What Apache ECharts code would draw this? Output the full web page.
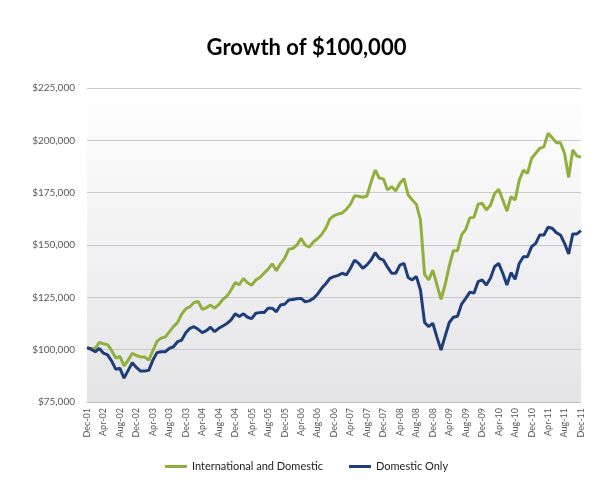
<!DOCTYPE html>
<html><head><meta charset="utf-8">
<script src="https://cdn.jsdelivr.net/npm/echarts@6/dist/echarts.min.js"></script>
<style>html,body{margin:0;padding:0;background:#fff;}#c{width:613px;height:500px;}</style>
</head><body><div id="c"></div>
<script>
var months = ['Jan','Feb','Mar','Apr','May','Jun','Jul','Aug','Sep','Oct','Nov','Dec'];
var categories = [];
(function(){ categories.push('Dec-01'); for (var y=2; y<=11; y++) { for (var m=0; m<12; m++) { categories.push(months[m] + '-' + (y<10?'0'+y:''+y)); } } })();

var intlDomestic = [
101.0,100.5,100.6,103.5,102.8,102.4,99.5,96.0,96.8,92.2,95.0,98.3,
97.2,96.6,96.5,95.0,99.5,104.0,105.5,106.0,108.5,111.0,113.0,117.0,
119.5,120.5,122.5,123.0,119.3,120.0,121.3,119.8,121.5,124.0,125.5,128.5,
132.0,131.0,134.0,132.0,130.8,133.3,134.5,136.5,138.5,141.0,137.7,141.0,
143.6,148.0,148.4,150.0,153.2,150.0,149.0,151.5,153.0,155.0,158.0,162.5,
164.0,164.8,165.3,167.0,169.5,173.5,173.3,172.8,173.4,180.0,185.8,182.0,
181.6,176.3,177.9,175.8,179.5,181.7,174.0,171.5,169.5,162.0,136.0,133.3,
138.0,131.0,124.0,131.0,140.0,147.3,147.3,154.8,157.5,163.0,163.2,169.5,
169.9,166.7,169.0,174.5,176.6,171.5,166.2,173.1,171.5,181.0,185.8,184.2,
191.4,193.8,196.2,197.0,203.4,201.3,198.9,198.9,193.8,182.3,195.4,192.5,
192.0
];
var domesticOnly = [
101.0,100.2,99.0,100.6,98.3,97.5,94.5,90.6,91.1,86.4,90.1,93.8,
91.5,89.8,89.8,90.1,95.0,98.6,99.0,99.0,100.6,101.4,103.8,104.6,
108.1,110.2,111.0,109.7,108.1,109.1,110.7,108.6,110.2,111.3,112.5,114.2,
117.1,115.8,117.1,115.5,114.8,117.4,117.7,117.7,119.8,119.8,118.1,121.3,
121.7,123.7,124.0,124.3,124.5,122.9,123.3,124.5,126.5,129.3,131.5,134.1,
134.9,135.5,136.5,135.7,138.9,142.8,141.2,138.9,140.5,142.8,146.3,143.6,
142.8,139.4,136.5,136.5,140.4,141.2,134.5,133.3,135.0,128.5,113.0,111.0,
112.6,106.0,99.8,106.5,113.0,115.5,116.0,121.8,124.5,127.5,127.0,132.5,
133.3,130.9,134.1,139.6,141.2,136.5,130.9,136.8,133.6,141.2,144.4,144.4,
149.2,150.8,154.8,154.8,158.5,158.0,155.9,154.8,150.8,145.7,155.3,155.3,
156.9
];
var seriesNames = ['International and Domestic','Domestic Only'];
var yTicks = [75000,100000,125000,150000,175000,200000,225000];

function k(a){ return a.map(function(v){ return Math.round(v*1000); }); }
function money(v){ return '$' + String(v).replace(/\B(?=(\d{3})+(?!\d))/g, ','); }

var chart = echarts.init(document.getElementById('c'), null, {renderer:'canvas'});
chart.setOption({
  animation: false,
  backgroundColor: '#ffffff',
  title: {
    text: 'Growth of $100,000', left: 'center', top: 32,
    textStyle: {fontFamily: 'Lato', fontWeight: 'bold', fontSize: 22, color: '#000'}
  },
  legend: {
    bottom: 23, left: 'center', itemGap: 26, itemWidth: 22, itemHeight: 3,
    icon: 'rect',
    textStyle: {fontFamily: 'Lato', fontSize: 11, color: '#222'},
    data: seriesNames
  },
  grid: {
    left: 87, right: 32, top: 88, bottom: 98, containLabel: false, show: true,
    borderWidth: 0,
    backgroundColor: new echarts.graphic.LinearGradient(0,0,0,1,[
      {offset:0, color:'#ffffff'},{offset:1, color:'#e4e4e7'}])
  },
  xAxis: {
    type: 'category', data: categories, boundaryGap: false,
    axisLine: {show: true, lineStyle: {color: '#bfbfbf', width: 1}},
    axisTick: {show: false},
    axisLabel: {interval: 3, rotate: 90, fontFamily: 'Lato', fontSize: 9, color: '#595959', margin: 6}
  },
  yAxis: {
    type: 'value', min: yTicks[0], max: yTicks[yTicks.length-1], interval: 25000,
    axisLine: {show: false}, axisTick: {show: false},
    splitLine: {lineStyle: {color: '#c9c9c9', width: 1}},
    axisLabel: {formatter: money, fontFamily: 'Lato', fontSize: 10, color: '#595959', margin: 12}
  },
  series: [
    {name: seriesNames[0], type: 'line', data: k(intlDomestic), symbol: 'none',
     lineStyle: {color: '#8fb03c', width: 3}, itemStyle: {color: '#8fb03c'}},
    {name: seriesNames[1], type: 'line', data: k(domesticOnly), symbol: 'none',
     lineStyle: {color: '#1f3d78', width: 3}, itemStyle: {color: '#1f3d78'}}
  ]
});
</script></body></html>
